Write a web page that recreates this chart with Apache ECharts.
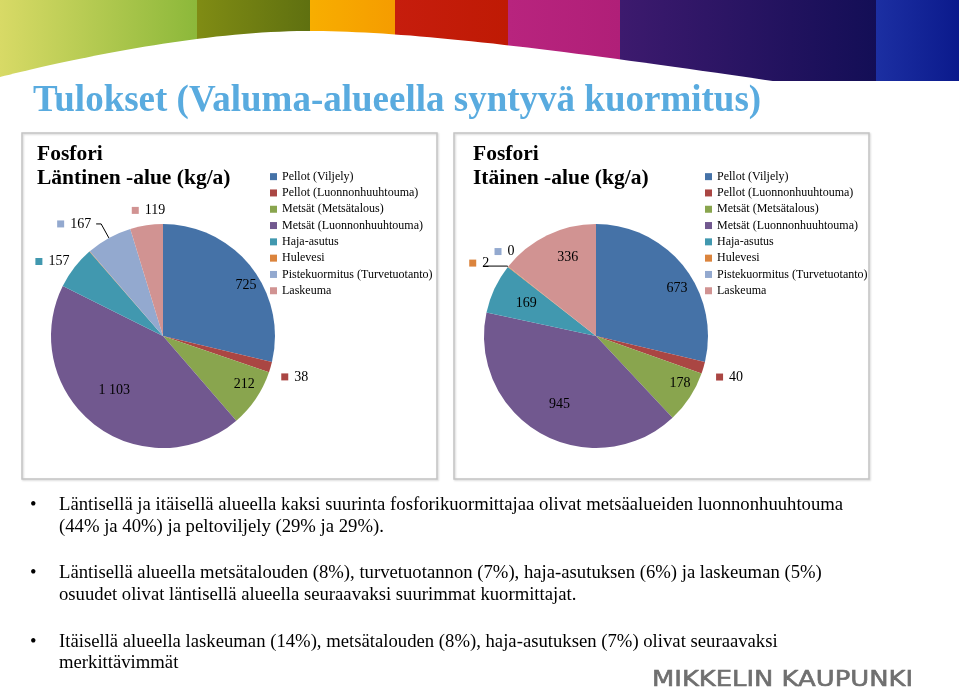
<!DOCTYPE html>
<html><head><meta charset="utf-8">
<script src="https://cdn.jsdelivr.net/npm/echarts@6/dist/echarts.min.js"></script>
<style>html,body{margin:0;padding:0;background:#fff}#c{width:959px;height:694px}</style>
</head><body><div id="c"></div>
<script>
// ---------- data ----------
const categories = ['Pellot (Viljely)', 'Pellot (Luonnonhuuhtouma)', 'Metsät (Metsätalous)', 'Metsät (Luonnonhuuhtouma)', 'Haja-asutus', 'Hulevesi', 'Pistekuormitus (Turvetuotanto)', 'Laskeuma'];
const westValues = [725, 38, 212, 1103, 157, 2, 167, 119];
const eastValues = [673, 40, 178, 945, 169, 2, 0, 336];
const slideTitle = 'Tulokset (Valuma-alueella syntyvä kuormitus)';
const westTitle = ['Fosfori', 'Läntinen -alue (kg/a)'];
const eastTitle = ['Fosfori', 'Itäinen -alue (kg/a)'];
const bulletLines = [
  ['Läntisellä ja itäisellä alueella kaksi suurinta fosforikuormittajaa olivat metsäalueiden luonnonhuuhtouma', '(44% ja 40%) ja peltoviljely (29% ja 29%).'],
  ['Läntisellä alueella metsätalouden (8%), turvetuotannon (7%), haja-asutuksen (6%) ja laskeuman (5%)', 'osuudet olivat läntisellä alueella seuraavaksi suurimmat kuormittajat.'],
  ['Itäisellä alueella laskeuman (14%), metsätalouden (8%), haja-asutuksen (7%) olivat seuraavaksi', 'merkittävimmät']
];
const logoText = 'MIKKELIN KAUPUNKI';

// ---------- styles ----------
const sliceColors = ['#4572A7', '#AA4643', '#89A54E', '#71588F', '#4198AF', '#DB843D', '#93A9CF', '#D19392'];
const SERIF = '"Liberation Serif", "Times New Roman", serif';
const R = 112;
// label placement (style config)
const westLabelMode = ['far', 'out', 'far', 'near', 'out', 'out', 'out', 'out'];
const eastLabelMode = ['far', 'out', 'far', 'near', 'near', 'out', 'out', 'mid'];
const westInNudge = {0: [6, 10], 2: [0, -6], 3: [-1, -7]};
const eastInNudge = {0: [4, 13], 2: [2, -6], 3: [2, 0], 4: [1, 0], 7: [10, 1]};
const westOut = {
  1: {len: 8, len2: 0, dist: 3, pad: [15, 0, 0, 0]},
  4: {len: 0, len2: 0, dist: 5, pad: [0, 0, 12, 0]},
  5: {len: 0, len2: 0, dist: 2, pad: [0, 0, 19, 0]},
  6: {len: 16, len2: 5, dist: 5, pad: 0, line: true},
  7: {len: 15, len2: 0, dist: -21, pad: 0}
};
const eastOut = {
  1: {len: 8, len2: 0, dist: 5, pad: [14, 0, 0, 0]},
  5: {len: 1, len2: 24, dist: -6, pad: [0, 0, 6, 0], line: true},
  6: {len: 20, len2: 0, dist: -22, pad: [0, 0, 5, 0]}
};
const innerRadius = {far: 78, mid: 58, near: 38};

function fmt(v) { return String(v).replace(/\B(?=(\d{3})+(?!\d))/g, ' '); }
function nudgePad(n) {
  if (!n) return 0;
  const dx = n[0], dy = n[1];
  return [dy > 0 ? 2 * dy : 0, dx < 0 ? -2 * dx : 0, dy < 0 ? -2 * dy : 0, dx > 0 ? 2 * dx : 0];
}

const rich = {g: {width: 6}, v: {fontFamily: SERIF, fontSize: 14, color: '#000', verticalAlign: 'middle'}};
sliceColors.forEach((c, i) => { rich['s' + i] = {width: 7, height: 7, backgroundColor: c, verticalAlign: 'middle'}; });

function mainSeries(values, center, outCfg) {
  return {
    type: 'pie', center: center, radius: [0, R], startAngle: 90, clockwise: true,
    avoidLabelOverlap: false, silent: true, animation: false,
    emphasis: {disabled: true},
    itemStyle: {borderWidth: 0},
    label: {show: false, fontFamily: SERIF, fontSize: 14, color: '#000', lineHeight: 16, rich: rich},
    labelLine: {show: false},
    data: values.map((v, i) => {
      const item = {name: categories[i], value: v, itemStyle: {color: sliceColors[i]}};
      const o = outCfg[i];
      if (o) {
        item.label = {show: true, position: 'outside', distanceToLabelLine: o.dist, padding: o.pad,
          formatter: '{s' + i + '|}{g|}{v|' + fmt(v) + '}'};
        item.labelLine = {show: !!o.line, length: o.len, length2: o.len2, smooth: false,
          lineStyle: {color: '#000', width: 1}};
      }
      return item;
    })
  };
}
function overlaySeries(values, center, modes, mode, nudges) {
  return {
    type: 'pie', center: center, radius: [innerRadius[mode], R], startAngle: 90, clockwise: true,
    avoidLabelOverlap: false, silent: true, animation: false,
    emphasis: {disabled: true},
    itemStyle: {color: 'rgba(0,0,0,0)', borderWidth: 0},
    labelLine: {show: false},
    label: {show: false, position: 'inside', fontFamily: SERIF, fontSize: 14, color: '#000', lineHeight: 16, textBorderWidth: 0, rich: rich},
    data: values.map((v, i) => ({name: categories[i], value: v,
      label: {show: modes[i] === mode, formatter: '{v|' + fmt(v) + '}', padding: nudgePad(nudges[i])}}))
  };
}

const westC = [163, 336], eastC = [596, 336];
const series = [mainSeries(westValues, westC, westOut)];
['far', 'mid', 'near'].forEach(m => { if (westLabelMode.includes(m)) series.push(overlaySeries(westValues, westC, westLabelMode, m, westInNudge)); });
series.push(mainSeries(eastValues, eastC, eastOut));
['far', 'mid', 'near'].forEach(m => { if (eastLabelMode.includes(m)) series.push(overlaySeries(eastValues, eastC, eastLabelMode, m, eastInNudge)); });

function legend(left) {
  return {orient: 'vertical', left: left, top: 168.5, padding: 0, itemGap: 0, itemWidth: 7, itemHeight: 7,
    icon: 'rect', selectedMode: false, data: categories,
    textStyle: {fontFamily: SERIF, fontSize: 12, color: '#000', lineHeight: 16.3}};
}

// ---------- decorations ----------
function lg(c1, c2) { return new echarts.graphic.LinearGradient(0, 0, 1, 0, [{offset: 0, color: c1}, {offset: 1, color: c2}]); }
const bands = [
  [0, 197, '#d8da66', '#8cb83a'], [197, 310, '#808c14', '#5f7010'], [310, 395, '#f8ae00', '#f59c00'],
  [395, 508, '#c61d0d', '#bf1a04'], [508, 620, '#b8247e', '#b01f78'], [620, 876, '#3d1a6e', '#130e56'],
  [876, 959, '#1c2fa2', '#0b1a8c']
];
const graphics = [];
bands.forEach(b => graphics.push({type: 'rect', shape: {x: b[0], y: 0, width: b[1] - b[0] + 0.5, height: 81}, style: {fill: lg(b[2], b[3])}, silent: true}));
function bez(p0, p1, p2, p3, n) {
  const pts = [];
  for (let k = 0; k <= n; k++) {
    const t = k / n, u = 1 - t;
    pts.push([u*u*u*p0[0] + 3*u*u*t*p1[0] + 3*u*t*t*p2[0] + t*t*t*p3[0],
              u*u*u*p0[1] + 3*u*u*t*p1[1] + 3*u*t*t*p2[1] + t*t*t*p3[1]]);
  }
  return pts;
}
const wave = bez([0, 77], [60, 62], [200, 30], [315, 31], 40).concat(bez([315, 31], [420, 32], [560, 50], [780, 82], 40).slice(1));
wave.push([780, 96], [0, 96]);
graphics.push({type: 'polygon', shape: {points: wave}, style: {fill: '#fff'}, silent: true});

function txt(x, y, text, font, color) {
  return {type: 'text', x: x, y: y, silent: true,
    style: {text: text, font: font, fill: color, verticalAlign: 'middle', align: 'left'}};
}
graphics.push(txt(33, 101.5, slideTitle, 'bold 37px "Liberation Serif"', '#59abdf'));
[[22, 133], [454, 133]].forEach(p => graphics.push({type: 'rect', shape: {x: p[0], y: p[1], width: 415, height: 346},
  style: {fill: 'none', stroke: '#c4c4c4', lineWidth: 1.5, shadowColor: 'rgba(0,0,0,0.18)', shadowBlur: 2, shadowOffsetX: 1, shadowOffsetY: 1}, silent: true}));
[[westTitle, 37], [eastTitle, 473]].forEach(t => {
  t[0].forEach((line, k) => graphics.push(txt(t[1], 154.5 + k * 24.3, line, 'bold 21.5px "Liberation Serif"', '#000')));
});
const bulletMid = [[505.4, 526.9], [573.5, 595], [641.7, 663.2]];
bulletLines.forEach((p, i) => {
  graphics.push(txt(30, bulletMid[i][0], '•', '18.7px "Liberation Serif"', '#000'));
  p.forEach((line, k) => graphics.push(txt(59, bulletMid[i][k], line, '18.7px "Liberation Serif"', '#000')));
});
const LOGOFONT = '21px "DejaVu Sans"';
const mctx = document.createElement('canvas').getContext('2d');
mctx.font = LOGOFONT;
const logoScale = 261 / mctx.measureText(logoText).width;
const logo = txt(652, 680.5, logoText, LOGOFONT, '#6f6f6f');
logo.scaleX = logoScale;
logo.style.stroke = '#6f6f6f';
logo.style.lineWidth = 0.6;
graphics.push(logo);

const chart = echarts.init(document.getElementById('c'), null, {renderer: 'canvas'});
chart.setOption({
  animation: false,
  backgroundColor: '#fff',
  textStyle: {fontFamily: SERIF},
  legend: [legend(270), legend(705)],
  graphic: graphics,
  series: series
});
</script></body></html>
